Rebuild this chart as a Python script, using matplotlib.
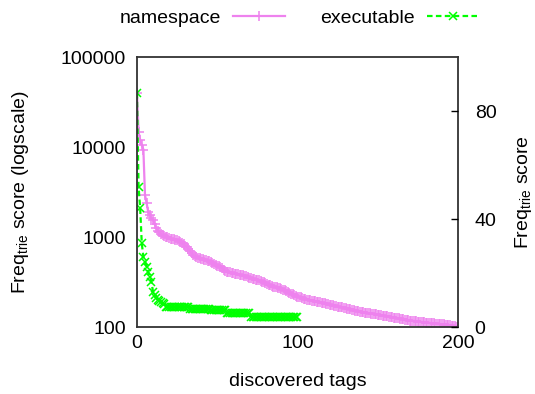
import matplotlib
matplotlib.use("Agg")
import matplotlib.pyplot as plt

plt.rcParams['font.family'] = ['Liberation Sans', 'DejaVu Sans']
plt.rcParams['mathtext.fontset'] = 'custom'
plt.rcParams['mathtext.rm'] = 'Liberation Sans'
plt.rcParams['mathtext.it'] = 'Liberation Sans'

# namespace tags, x = 0..200
namespace = [
    40000, 14800, 12000, 10500, 9400, 2930, 2400, 1900, 1750, 1620,
    1550, 1400, 1250, 1180, 1130, 1080, 1050, 1030, 1010, 990,
    975, 960, 950, 940, 930, 925, 900, 870, 850, 830,
    800, 780, 740, 700, 660, 630, 615, 600, 590, 582,
    575, 568, 560, 555, 545, 535, 525, 512, 500, 490,
    480, 472, 466, 450, 435, 420, 412, 408, 404, 400,
    396, 392, 388, 384, 380, 378, 375, 370, 365, 360,
    355, 350, 345, 340, 336, 333, 330, 326, 320, 314,
    308, 302, 296, 291, 286, 282, 278, 275, 272, 269,
    265, 260, 255, 250, 245, 240, 235, 230, 226, 222,
    218, 215, 213, 210, 207, 205, 202, 200, 198, 196,
    194, 193, 192, 191, 189, 187, 185, 183, 181, 179,
    177, 175, 174, 172, 171, 169, 168, 167, 165, 163,
    162, 160, 159, 157, 156, 154, 152, 151, 149, 148,
    147, 146, 145, 144, 143, 142, 141, 140, 139, 138,
    137, 136, 135, 134, 133, 132, 131, 130, 129, 128,
    127, 126, 126, 125, 124, 123, 122, 121, 120, 119,
    118, 118, 117, 117, 116, 115, 115, 114, 113, 113,
    112, 112, 111, 111, 110, 110, 109, 109, 108, 108,
    107, 107, 106, 105, 105, 104, 103, 103, 102, 101, 100,
]

# executable tags, x = 0..100
executable = [
    40000, 3620, 2080, 850, 603, 532, 470, 411, 360, 319,
    247, 228, 208, 200, 195, 191, 185, 178, 168, 168,
    168, 168, 168, 168, 168, 168, 168, 168, 168, 168,
    168, 168, 168, 160, 160, 160, 160, 160, 160, 160,
    160, 160, 160, 160, 160, 160, 153, 153, 153, 153,
    153, 153, 153, 153, 153, 153, 142, 142, 142, 142,
    142, 142, 142, 142, 142, 142, 142, 142, 142, 142,
    142, 130, 130, 130, 130, 130, 130, 130, 130, 130,
    130, 130, 130, 130, 130, 130, 130, 130, 130, 130,
    130, 130, 130, 130, 130, 130, 130, 130, 130, 130,
    130,
]

x_ticks = [0, 100, 200]
y_ticks = [100, 1000, 10000, 100000]
y2_ticks = [0, 40, 80]

fig = plt.figure(figsize=(5.35, 3.94), dpi=100)
ax = fig.add_axes([0.256, 0.170, 0.600, 0.685])

fs = 14
ax.plot(range(len(namespace)), namespace, color='#ee82ee', lw=1.6,
        marker='+', ms=7, mew=1.1, label='namespace')
ax.plot(range(len(executable)), executable, color='#00ff00', lw=1.6,
        ls=(0, (2.5, 1.5)), marker='x', ms=5.5, mew=1.1, label='executable')

ax.set_yscale('log')
ax.set_xlim(0, 200)
ax.set_ylim(100, 100000)
ax.set_xticks(x_ticks)
ax.set_xticklabels([str(t) for t in x_ticks], fontsize=fs)
ax.set_yticks(y_ticks)
ax.set_yticklabels([str(t) for t in y_ticks], fontsize=fs)
ax.yaxis.set_minor_locator(matplotlib.ticker.NullLocator())
ax.tick_params(axis='y', length=0, pad=8)
ax.tick_params(axis='x', length=0, pad=6)
ax.set_xlabel('discovered tags', fontsize=fs, labelpad=15)
ax.set_ylabel(r'Freq$_{\mathregular{trie}}$ score (logscale)', fontsize=fs, labelpad=21)
for s in ax.spines.values():
    s.set_linewidth(1.3)
    s.set_color('#333333')

ax2 = ax.twinx()
ax2.set_ylim(0, 100)
ax2.set_yticks(y2_ticks)
ax2.set_yticklabels([str(t) for t in y2_ticks], fontsize=fs)
ax2.tick_params(direction='in', length=5, width=1, pad=12)
ax2.set_ylabel(r'Freq$_{\mathregular{trie}}$ score', fontsize=fs, labelpad=12)
for s in ax2.spines.values():
    s.set_visible(False)

fig.legend(loc='upper center', bbox_to_anchor=(0.56, 1.02), ncol=2,
           frameon=False, markerfirst=False, fontsize=fs, handlelength=2.7,
           columnspacing=1.8, handletextpad=0.6)

fig.savefig('out.png', dpi=100)
